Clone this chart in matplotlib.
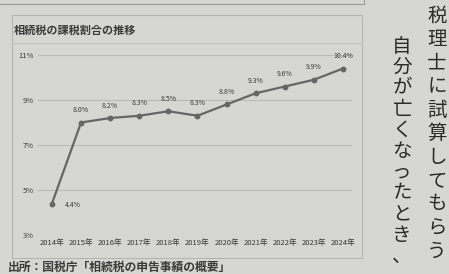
import matplotlib.pyplot as plt
from matplotlib.patches import Rectangle

plt.rcParams['font.family'] = ['Noto Sans CJK JP', 'DejaVu Sans']

years = ['2014年', '2015年', '2016年', '2017年', '2018年', '2019年',
         '2020年', '2021年', '2022年', '2023年', '2024年']
ratio = [4.4, 8.0, 8.2, 8.3, 8.5, 8.3, 8.8, 9.3, 9.6, 9.9, 10.4]
yticks = [3, 5, 7, 9, 11]

title = '相続税の課税割合の推移'
source = '出所：国税庁「相続税の申告事績の概要」'
col1 = '自分が亡くなったとき、'
col2 = '税理士に試算してもらう'

W, H = 449, 274
bg = '#d6d6d3'
ink = '#3a3a3a'

fig = plt.figure(figsize=(W / 100, H / 100), dpi=100, facecolor=bg)


def fx(px):
    return px / W


def fy(py):
    return 1 - py / H


# chart frame
fig.patches.append(Rectangle((fx(12), fy(258)), fx(350), 243 / H, transform=fig.transFigure,
                             fill=False, ec='#b5b5b2', lw=0.8))
fig.patches.append(Rectangle((fx(-2), fy(4)), fx(366), 6 / H, transform=fig.transFigure,
                             fill=False, ec='#9a9a98', lw=0.8))
fig.lines.append(plt.Line2D([fx(12), fx(362)], [fy(43), fy(43)], transform=fig.transFigure,
                            color='#c2c2bf', lw=0.8))

ax = fig.add_axes([fx(38), fy(235), fx(314), 180 / H])
ax.set_facecolor('none')
x = list(range(len(years)))
ax.plot(x, ratio, color='#666666', lw=1.6, marker='o', ms=3.2, zorder=3)
for i, v in enumerate(ratio):
    if i == 0:
        ax.annotate(f'{v}%', (i, v), xytext=(9, -1), textcoords='offset points',
                    fontsize=5, color=ink, va='center', ha='left')
    else:
        ax.annotate(f'{v}%', (i, v), xytext=(0, 6), textcoords='offset points',
                    fontsize=5, color=ink, va='bottom', ha='center')

ax.set_xlim(-0.48, 10.31)
ax.set_ylim(3, 11)
ax.set_yticks(yticks)
ax.set_yticklabels([f'{t}%' for t in yticks], fontsize=5.5, color=ink)
ax.set_xticks(x)
ax.set_xticklabels(years, fontsize=5.5, color=ink)
ax.tick_params(length=0, pad=3)
ax.grid(axis='y', color='#b9b9b6', lw=0.8)
for s in ax.spines.values():
    s.set_visible(False)

fig.text(fx(14), fy(30), title, fontsize=8, fontweight='bold', color=ink, va='center')
fig.text(fx(8), fy(261), source, fontsize=8.5, fontweight='bold', color=ink, va='top')

# vertical article text
for k, ch in enumerate(col1):
    fig.text(fx(402), fy(46 + 21 * k), ch, fontsize=14, color='#2a2a2a',
             ha='center', va='center')
for k, ch in enumerate(col2):
    fig.text(fx(437), fy(16 + 23.5 * k), ch, fontsize=14, color='#2a2a2a',
             ha='center', va='center')

fig.savefig('out.png', dpi=100, facecolor=bg)
